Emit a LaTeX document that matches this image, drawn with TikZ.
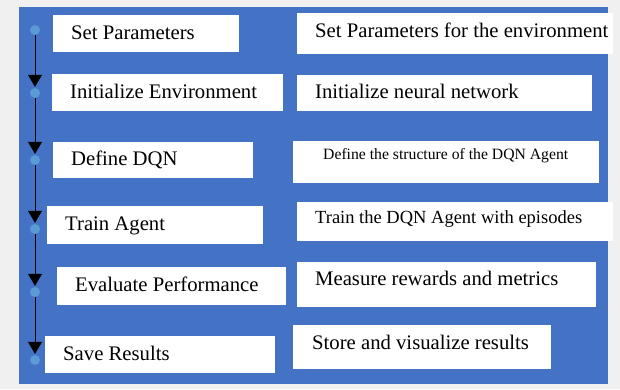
\documentclass[tikz,border=0pt]{standalone}
\usepackage{fontspec}
\setmainfont{Liberation Serif}
\usetikzlibrary{positioning, arrows.meta}

\definecolor{panelblue}{HTML}{4472C4}
\definecolor{dotblue}{HTML}{5B9BD5}
\definecolor{pagegray}{HTML}{F0F0F0}
\newcommand{\stepfont}{\fontsize{20.7}{24}\selectfont}

\begin{document}
\begin{tikzpicture}[x=1pt, y=-1pt, >={Triangle[width=14pt,length=12pt]},
		card/.style={rectangle, fill=white, anchor=north west, inner sep=0pt, outer sep=0pt},
		txt/.style={inner sep=0pt, text height=11pt, text depth=0pt, font=\stepfont},
		dot/.style={circle, fill=dotblue, minimum size=10pt, inner sep=0pt},
		flow/.style={->, draw=black, line width=0.8pt, shorten >=1pt}]

	\useasboundingbox[fill=pagegray] (0,0) rectangle (620,389);
	\fill[panelblue] (19,7) rectangle (608,384);

	% steps (left column)
	\node[card, minimum width=186pt, minimum height=37pt] (params)   at (53,15)  {};
	\node[card, minimum width=231pt, minimum height=37pt] (initenv)  at (52,74)  {};
	\node[card, minimum width=200pt, minimum height=36pt] (defdqn)   at (53,142) {};
	\node[card, minimum width=216pt, minimum height=38pt] (train)    at (47,206) {};
	\node[card, minimum width=229pt, minimum height=38pt] (evalperf) at (57,267) {};
	\node[card, minimum width=230pt, minimum height=37pt] (save)     at (45,336) {};

	\node[txt, right=18pt of params.west]   (paramstxt)   {Set Parameters};
	\node[txt, right=18pt of initenv.west]  (initenvtxt)  {Initialize Environment};
	\node[txt, right=18pt of defdqn.west]   (defdqntxt)   {Define DQN};
	\node[txt, right=18pt of train.west]    (traintxt)    {Train Agent};
	\node[txt, right=18pt of evalperf.west] (evalperftxt) {Evaluate Performance};
	\node[txt, right=18pt of save.west]     (savetxt)     {Save Results};

	% descriptions (right column)
	\node[card, minimum width=316pt, minimum height=41pt] (envnote)  at (297,13)  {};
	\node[card, minimum width=295pt, minimum height=36pt] (initnet)  at (297,75)  {};
	\node[card, minimum width=306pt, minimum height=42pt] (dqnnote)  at (293,141) {};
	\node[card, minimum width=316pt, minimum height=39pt] (episodes) at (297,202) {};
	\node[card, minimum width=299pt, minimum height=45pt] (metrics)  at (297,262) {};
	\node[card, minimum width=258pt, minimum height=44pt] (results)  at (293,325) {};

	\node[txt, right=18pt of envnote.west, yshift=2pt]  (envnotetxt) {Set Parameters for the environment};
	\node[txt, right=18pt of initnet.west]              (initnettxt) {Initialize neural network};
	\node[txt, right=30pt of dqnnote.west, yshift=8.5pt,
		font=\fontsize{15.7}{19}\selectfont]            (dqnnotetxt) {Define the structure of the DQN Agent};
	\node[txt, right=18pt of episodes.west, yshift=4pt,
		font=\fontsize{18.5}{22}\selectfont]            (episodestxt) {Train the DQN Agent with episodes};
	\node[txt, right=18pt of metrics.west, yshift=5pt]  (metricstxt) {Measure rewards and metrics};
	\node[txt, right=19pt of results.west, yshift=3.5pt] (resultstxt) {Store and visualize results};

	% flow markers
	\foreach \y [count=\i] in {30,93,160,229,292,360}
		\node[dot] (d\i) at (35,\y) {};
	\foreach \i [evaluate=\i as \j using int(\i+1)] in {1,...,5}
		\path (d\i) edge[flow] (d\j);

\end{tikzpicture}
\end{document}
